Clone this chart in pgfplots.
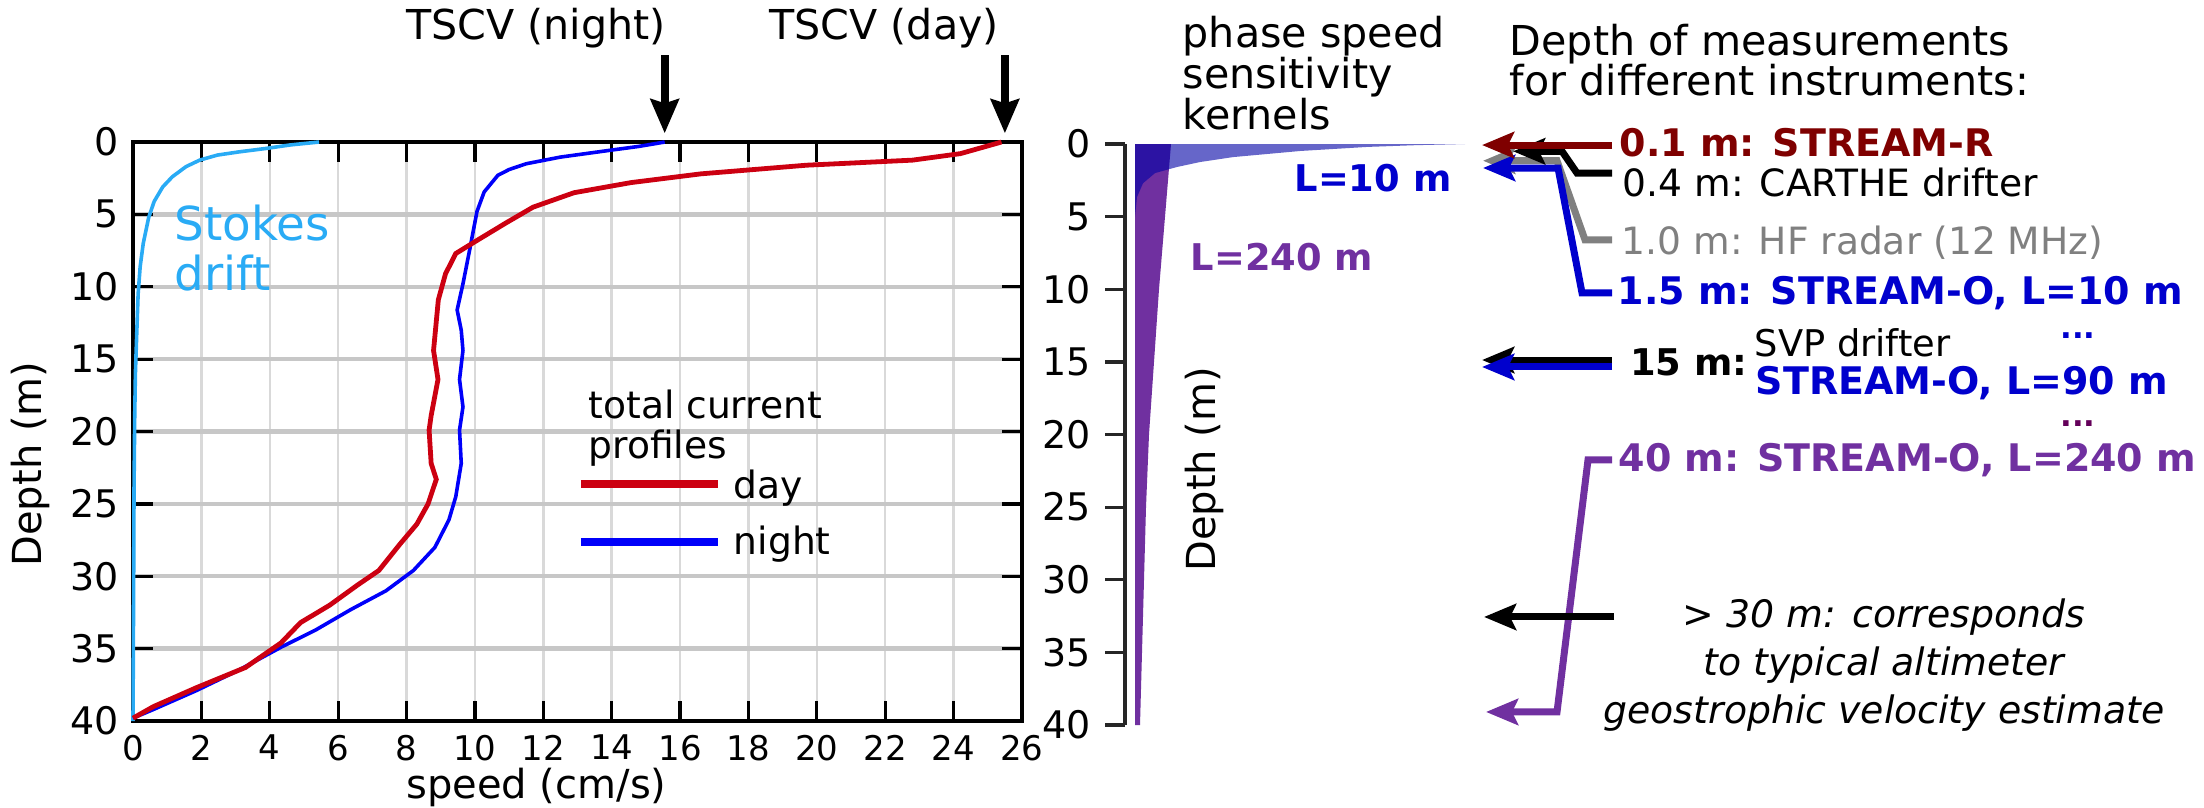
\documentclass[border=0pt]{standalone}
\usepackage{fontspec}
\setmainfont{DejaVu Sans}
\usepackage{pgfplots}
\pgfplotsset{compat=1.18}
\usetikzlibrary{arrows.meta}
\definecolor{dayred}{RGB}{204,0,17}
\definecolor{nightblue}{RGB}{0,0,250}
\definecolor{stokes}{RGB}{41,171,245}
\definecolor{kpurple}{RGB}{112,48,160}
\definecolor{kblue}{RGB}{0,0,165}
\definecolor{sblue}{RGB}{0,0,205}
\definecolor{maroon}{RGB}{127,0,0}
\definecolor{hfgray}{RGB}{128,128,128}
\definecolor{dpurple}{RGB}{100,0,90}
\newcommand\fsz[2]{\fontsize{#1}{#2}\selectfont}
\tikzset{arr/.style={line width=1.75pt,-{Stealth[length=8pt,width=6.5pt,inset=1.5pt]}}}
\begin{document}
\begin{tikzpicture}
\path[use as bounding box] (0,0) rectangle (551pt,201.75pt);
% ---------------- left panel: speed profiles ----------------
\begin{axis}[
  at={(33.25pt,21.5pt)}, anchor=south west, scale only axis,
  width=222.25pt, height=144.75pt,
  xmin=0, xmax=26, ymin=0, ymax=40, y dir=reverse,
  xtick={0,2,...,26}, ytick={0,5,...,40},
  grid=major, clip=false,
  axis line style={line width=0.8pt},
  major tick length=5pt,
  tick style={black, line width=0.8pt},
  x grid style={black!15, line width=0.6pt},
  y grid style={black!22, line width=1.1pt},
  /pgf/number format/assume math mode=true,
  xticklabel style={font=\fsz{8.5}{10}},
  yticklabel style={font=\fsz{9.5}{11}},
]
\addplot[stokes, line width=0.9pt] coordinates {
(5.44,0) (4.6,0.2) (3.9,0.44) (3.1,0.68) (2.47,0.9) (1.95,1.25) (1.55,1.7)
(1.15,2.4) (0.87,3.1) (0.62,4.1) (0.46,5.2) (0.3,7) (0.21,8.6) (0.15,10.5)
(0.11,13.2) (0.07,16) (0.05,19) (0.03,24) (0.02,30) (0.01,35) (0.0,40)};
\addplot[nightblue, line width=0.9pt] coordinates {
(15.55,0) (14.8,0.3) (13.95,0.57) (12.5,1.04) (11.5,1.5) (11.0,1.9) (10.67,2.3)
(10.27,3.45) (10.06,4.8) (9.85,7.4) (9.65,9.8) (9.48,11.6) (9.6,13) (9.65,14.4)
(9.55,16.4) (9.65,18.3) (9.55,19.9) (9.6,22.2) (9.44,24.5) (9.24,26.1) (8.83,28)
(8.2,29.6) (7.4,31) (6.37,32.3) (5.35,33.7) (4.33,34.9) (3.08,36.5) (1.85,37.9)
(0.6,39.2) (0,39.8)};
\addplot[dayred, line width=1.2pt] coordinates {
(25.4,0) (24.2,0.8) (22.8,1.25) (19.7,1.6) (16.6,2.2) (14.57,2.8) (12.9,3.5)
(11.7,4.5) (10.9,5.6) (10.06,6.8) (9.44,7.7) (9.14,9.1) (8.93,10.9) (8.79,14.4)
(8.92,16.4) (8.72,18.9) (8.66,19.9) (8.72,22.2) (8.87,23.3) (8.63,25) (8.3,26.4)
(7.8,27.8) (7.19,29.6) (6.57,30.6) (5.75,32.0) (4.9,33.2) (4.33,34.6) (3.29,36.3)
(1.85,37.7) (0.6,39) (0,39.8)};
% legend samples
\addplot[dayred, line width=2.2pt, forget plot] coordinates {(13.1,23.63) (17.1,23.63)};
\addplot[nightblue, line width=2.2pt, forget plot] coordinates {(13.1,27.63) (17.1,27.63)};
\node[anchor=north west, align=left, inner sep=0pt, font=\fsz{9.4}{10}] at (axis cs:13.3,17.1) {total current\\profiles};
\node[anchor=west, inner sep=0pt, font=\fsz{9.4}{11}] at (axis cs:17.55,23.9) {day};
\node[anchor=west, inner sep=0pt, font=\fsz{9.4}{11}] at (axis cs:17.55,27.8) {night};
% Stokes label
\node[anchor=west, align=left, inner sep=0pt, text=stokes, font=\fsz{11.7}{12.5}] at (axis cs:1.2,7.33) {Stokes\\drift};
% TSCV arrows
\addplot[black, line width=2pt, -{Stealth[length=8.5pt,width=7pt,inset=1pt]}] coordinates {(15.55,-6.0) (15.55,-0.6)};
\addplot[black, line width=2pt, -{Stealth[length=8.5pt,width=7pt,inset=1pt]}] coordinates {(25.5,-6.0) (25.5,-0.6)};
\node[font=\fsz{10.3}{12}] at (axis cs:11.79,-7.88) {TSCV (night)};
\node[font=\fsz{10.3}{12}] at (axis cs:21.97,-7.88) {TSCV (day)};
% axis labels
\node[rotate=90, font=\fsz{10}{12}] at (axis cs:-3.01,22.25) {Depth (m)};
\node[font=\fsz{10}{12}] at (axis cs:11.8,44.6) {speed (cm/s)};
\end{axis}
% ---------------- right panel: kernels and measurement depths ----------------
\begin{axis}[
  at={(281.25pt,20.5pt)}, anchor=south west, scale only axis,
  width=269.75pt, height=145.25pt,
  xmin=1125, xmax=2204, ymin=0, ymax=40, y dir=reverse,
  axis x line=none, axis y line*=left, xtick=\empty,
  ytick={0,5,...,40}, tick align=outside, major tick length=5pt,
  tick style={black!85, line width=0.8pt},
  y axis line style={black!85, line width=0.8pt},
  /pgf/number format/assume math mode=true,
  yticklabel style={font=\fsz{9.5}{11}},
  clip=false,
]
% L=240 m kernel
\addplot[fill=kpurple, draw=none] coordinates {
(1135,0) (1171,0) (1168,2.5) (1165,5) (1162,7.5) (1159,10) (1156.5,12.5) (1154,15)
(1151.5,17.5) (1149,20) (1147.5,22.5) (1146,25) (1145,27.5) (1144,30) (1143,32.5)
(1142,35) (1141,37.5) (1140,40) (1135,40)} -- cycle;
% L=10 m kernel
\addplot[fill=kblue, fill opacity=0.6, draw=none] coordinates {
(1135,0) (1465,0) (1415,0.08) (1367,0.2) (1300,0.48) (1233,0.9) (1200,1.24)
(1177,1.58) (1155,2.0) (1143,2.7) (1137,3.65) (1135,5)} -- cycle;
\node[text=sblue, font=\bfseries\fsz{9.2}{11}] at (axis cs:1373,2.35) {L=10 m};
\node[text=kpurple, font=\bfseries\fsz{9.2}{11}] at (axis cs:1282,7.8) {L=240 m};
\node[rotate=90, font=\fsz{10}{12}] at (axis cs:1204,22.4) {Depth (m)};
% headings
\node[anchor=north west, align=left, inner sep=0pt, font=\fsz{10.3}{10.25}] at (axis cs:1182,-8.88) {phase speed\\sensitivity\\kernels};
\node[anchor=north west, align=left, inner sep=0pt, font=\fsz{10.3}{10}] at (axis cs:1509,-8.33) {Depth of measurements\\for different instruments:};
% measurement-depth arrows
\addplot[hfgray, arr] coordinates {(1612,6.6) (1585,6.6) (1557,1.15) (1483,1.15)};
\addplot[sblue, arr] coordinates {(1612,10.25) (1582,10.25) (1558,1.65) (1483,1.65)};
\addplot[black, arr] coordinates {(1612,2.0) (1577,2.0) (1562,0.5) (1513,0.5)};
\addplot[maroon, arr] coordinates {(1612,0.07) (1482,0.07)};
\addplot[black, arr] coordinates {(1612,14.87) (1482,14.87)};
\addplot[sblue, arr] coordinates {(1612,15.35) (1482,15.35)};
\addplot[kpurple, arr] coordinates {(1612,21.75) (1588,21.75) (1557,39.1) (1486,39.1)};
\addplot[black, arr] coordinates {(1614,32.56) (1484,32.56)};
% measurement texts
\node[anchor=west, inner sep=0pt, text=maroon, font=\bfseries\fsz{9.5}{11}] at (axis cs:1619,-0.07) {0.1 m: STREAM-R};
\node[anchor=west, inner sep=0pt, font=\fsz{9.4}{11}] at (axis cs:1622,2.65) {0.4 m: CARTHE drifter};
\node[anchor=west, inner sep=0pt, text=hfgray, font=\fsz{9.4}{11}] at (axis cs:1621,6.8) {1.0 m: HF radar (12 MHz)};
\node[anchor=west, inner sep=0pt, text=sblue, font=\bfseries\fsz{9.5}{11}] at (axis cs:1617,10.25) {1.5 m: STREAM-O, L=10 m};
\node[anchor=base, inner sep=0pt, text=sblue, font=\bfseries\fsz{7.7}{9}] at (axis cs:2078,13.4) {...};
\node[anchor=east, inner sep=0pt, font=\bfseries\fsz{9.2}{11}] at (axis cs:1748,15.0) {15 m:};
\node[anchor=west, inner sep=0pt, font=\fsz{9.2}{11}] at (axis cs:1754,13.7) {SVP drifter};
\node[anchor=west, inner sep=0pt, text=sblue, font=\bfseries\fsz{9.5}{11}] at (axis cs:1755,16.45) {STREAM-O, L=90 m};
\node[anchor=base, inner sep=0pt, text=dpurple, font=\bfseries\fsz{7.7}{9}] at (axis cs:2078,19.45) {...};
\node[anchor=west, inner sep=0pt, text=kpurple, font=\bfseries\fsz{9.5}{11}] at (axis cs:1618,21.75) {40 m: STREAM-O, L=240 m};
\node[align=center, inner sep=0pt, font=\itshape\fsz{9.45}{12}] at (axis cs:1884,35.87) {> 30 m: corresponds\\to typical altimeter\\geostrophic velocity estimate};
\end{axis}
\end{tikzpicture}
\end{document}
